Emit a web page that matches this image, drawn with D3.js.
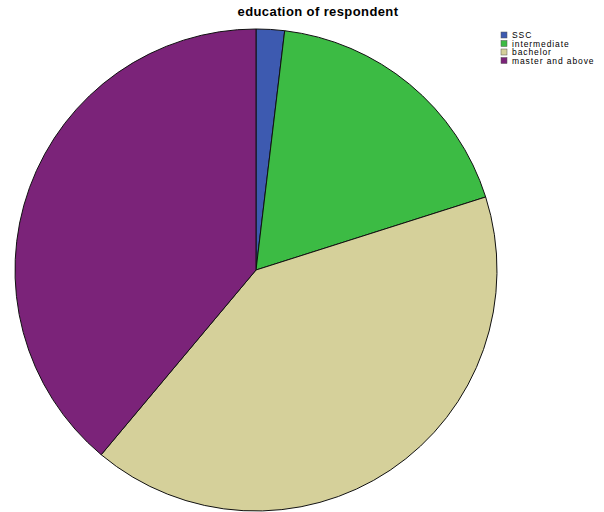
<!DOCTYPE html>
<html>
<head>
<meta charset="utf-8">
<script src="https://cdn.jsdelivr.net/npm/d3@7"></script>
<style>
  html, body { margin: 0; padding: 0; background: #fff; }
  svg { display: block; }
</style>
</head>
<body>
<svg id="chart" width="604" height="512"></svg>
<script>
// Education levels and their shares (percent)
const categories = ["SSC", "intermediate", "bachelor", "master and above"];
const values = [1.9, 18.2, 41.0, 38.9];
const colors = ["#3d5ab0", "#3cbb44", "#d5d09a", "#7b2379"];
const title = "education of respondent";

const svg = d3.select("#chart");
const cx = 256, cy = 270, r = 241;

const color = d3.scaleOrdinal().domain(categories).range(colors);

const pie = d3.pie().sort(null).value(d => d.value);
const arc = d3.arc().innerRadius(0).outerRadius(r);
const data = categories.map((c, i) => ({ name: c, value: values[i] }));

svg.append("g")
  .attr("transform", `translate(${cx},${cy})`)
  .selectAll("path")
  .data(pie(data))
  .join("path")
  .attr("d", arc)
  .attr("fill", d => color(d.data.name))
  .attr("stroke", "#111")
  .attr("stroke-width", 1);

svg.append("text")
  .attr("x", 318).attr("y", 16)
  .attr("text-anchor", "middle")
  .attr("font-family", "Liberation Sans, Arial, sans-serif")
  .attr("font-size", 13)
  .attr("font-weight", "bold")
  .attr("letter-spacing", 0.4)
  .attr("fill", "#000")
  .text(title);

const legend = svg.append("g").attr("transform", "translate(501,32)");
const row = legend.selectAll("g")
  .data(categories)
  .join("g")
  .attr("transform", (d, i) => `translate(0,${i * 8.5})`);
row.append("rect")
  .attr("width", 6).attr("height", 6)
  .attr("fill", d => color(d))
  .attr("stroke", "#555").attr("stroke-width", 0.5);
row.append("text")
  .attr("x", 11).attr("y", 6)
  .attr("font-family", "Liberation Sans, Arial, sans-serif")
  .attr("font-size", 8.5)
  .attr("letter-spacing", 0.9)
  .attr("fill", "#000")
  .text(d => d);
</script>
</body>
</html>
